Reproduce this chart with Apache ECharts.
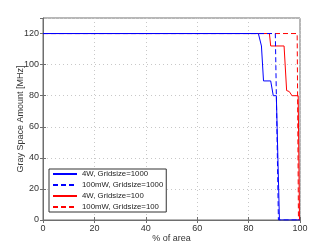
<!DOCTYPE html>
<html>
<head>
<meta charset="utf-8">
<script src="https://cdn.jsdelivr.net/npm/echarts@6/dist/echarts.min.js"></script>
<style>
html,body{margin:0;padding:0;background:#fff;}
#c{width:331px;height:249px;}
</style>
</head>
<body>
<div id="c"></div>
<script>
var seriesNames = ['4W, Gridsize=1000', '100mW, Gridsize=1000', '4W, Gridsize=100', '100mW, Gridsize=100'];
var w4g1000_x = [0, 83.8, 85.0, 85.8, 88.6, 89.6, 90.8, 92.0, 100];
var w4g1000_y = [120, 120, 112, 89.5, 89.5, 80, 80, 0, 0];
var mw100g1000_x = [0, 90.4, 91.6, 100];
var mw100g1000_y = [120, 120, 0, 0];
var w4g100_x = [0, 88.1, 88.6, 93.8, 94.8, 95.8, 96.9, 99.3, 99.8];
var w4g100_y = [120, 120, 112, 112, 83.3, 82.7, 80, 80, 0];
var mw100g100_x = [0, 98.9, 99.4];
var mw100g100_y = [120, 120, 0];
var xTicks = [0, 20, 40, 60, 80, 100];
var yTicks = [0, 20, 40, 60, 80, 100, 120];

function pairs(xs, ys){ return xs.map(function(x,i){ return [x, ys[i]]; }); }

var colors = ['#0000ff', '#0000ff', '#ff0000', '#ff0000'];
var types = ['solid', 'dashed', 'solid', 'dashed'];
var datas = [pairs(w4g1000_x, w4g1000_y), pairs(mw100g1000_x, mw100g1000_y), pairs(w4g100_x, w4g100_y), pairs(mw100g100_x, mw100g100_y)];

var font = 'Liberation Sans, Arial, sans-serif';
var chart = echarts.init(document.getElementById('c'), null, {renderer: 'canvas'});
var gridLine = {show: true, lineStyle: {color: '#c8c8c8', type: [1, 3], width: 1}};
var option = {
  animation: false,
  grid: {left: 43, right: 31, top: 18, bottom: 29, show: true, borderColor: '#6e6e6e', borderWidth: 1, backgroundColor: '#fff'},
  legend: {
    orient: 'vertical', left: 49, top: 169,
    data: seriesNames,
    itemWidth: 24, itemHeight: 9, itemGap: 3,
    padding: [1, 3, 1, 3],
    borderColor: '#333', borderWidth: 1, backgroundColor: '#fff',
    itemStyle: {opacity: 0, borderWidth: 0},
    textStyle: {fontFamily: font, fontSize: 7.8, color: '#222'}
  },
  xAxis: [{
    type: 'value', min: 0, max: 100, interval: 20,
    name: '% of area', nameLocation: 'middle', nameGap: 14, nameMoveOverlap: false,
    nameTextStyle: {fontFamily: font, fontSize: 9, color: '#333'},
    axisLine: {show: true, onZero: false, lineStyle: {color: '#6e6e6e'}},
    axisTick: {show: true, inside: true, length: 3, lineStyle: {color: '#6e6e6e'}},
    axisLabel: {fontFamily: font, fontSize: 9, color: '#333', margin: 4},
    splitLine: gridLine
  }, {
    type: 'value', min: 0, max: 100, interval: 20, position: 'top',
    axisLine: {show: false}, axisLabel: {show: false}, splitLine: {show: false},
    axisTick: {show: true, inside: true, length: 3, lineStyle: {color: '#6e6e6e'}}
  }],
  yAxis: [{
    type: 'value', min: 0, max: 130, interval: 20,
    name: 'Gray Space Amount [MHz]', nameLocation: 'middle', nameGap: 18, nameMoveOverlap: false,
    nameTextStyle: {fontFamily: font, fontSize: 9, color: '#333'},
    axisLine: {show: true, onZero: false, lineStyle: {color: '#6e6e6e'}},
    axisTick: {show: true, inside: true, length: 3, lineStyle: {color: '#6e6e6e'}},
    axisLabel: {fontFamily: font, fontSize: 9, color: '#333', margin: 4, showMaxLabel: false},
    splitLine: gridLine
  }, {
    type: 'value', min: 0, max: 130, interval: 20, position: 'right',
    axisLine: {show: false}, axisLabel: {show: false}, splitLine: {show: false},
    axisTick: {show: true, inside: true, length: 3, lineStyle: {color: '#6e6e6e'}}
  }],
  series: datas.map(function(d, i){
    return {
      name: seriesNames[i], type: 'line', data: d,
      xAxisIndex: 0, yAxisIndex: 0,
      symbol: 'none', showSymbol: false,
      color: colors[i],
      lineStyle: {color: colors[i], width: 1, type: types[i] === 'dashed' ? [5, 3] : 'solid'},
      itemStyle: {color: colors[i]},
      z: 10 - i
    };
  })
};
chart.setOption(option);
</script>
</body>
</html>
